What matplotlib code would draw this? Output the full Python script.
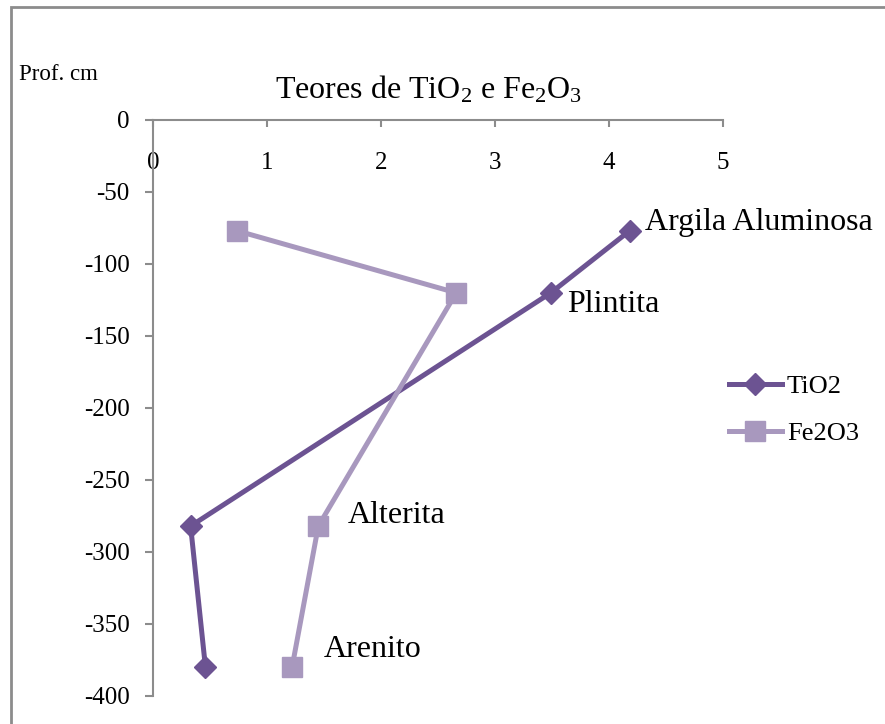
import matplotlib.pyplot as plt
from matplotlib.patches import Rectangle

plt.rcParams['font.family'] = ['Liberation Serif', 'DejaVu Serif']
plt.rcParams['mathtext.fontset'] = 'custom'
plt.rcParams['mathtext.rm'] = 'Liberation Serif'
plt.rcParams['mathtext.it'] = 'Liberation Serif:italic'

# dados
profundidade = [-77, -120, -282, -380]
tio2 = [4.18, 3.49, 0.33, 0.46]
fe2o3 = [0.74, 2.66, 1.45, 1.22]
horizontes = ['Argila Aluminosa', 'Plintita', 'Alterita', 'Arenito']
x_ticks = [0, 1, 2, 3, 4, 5]
y_ticks = [0, -50, -100, -150, -200, -250, -300, -350, -400]

cor_tio2 = '#6C5392'
cor_fe = '#A898BE'
cinza = '#8C8C8C'

fig = plt.figure(figsize=(8.85, 7.24), dpi=100)
W, H = 885, 724
ax = fig.add_axes([153 / W, 1 - 696 / H, 570 / W, 576 / H])

ax.plot(tio2, profundidade, color=cor_tio2, lw=3.6, marker='D', ms=11,
        label='TiO2', solid_joinstyle='round')
ax.plot(fe2o3, profundidade, color=cor_fe, lw=3.6, marker='s', ms=14,
        label='Fe2O3', solid_joinstyle='round')

ax.set_xlim(0, 5)
ax.set_ylim(-400, 0)
ax.set_xticks(x_ticks)
ax.set_yticks(y_ticks)
ax.set_xticklabels([str(v) for v in x_ticks])
ax.set_yticklabels([str(v) for v in y_ticks])

# eixo x no topo (y = 0), rótulos abaixo da linha
ax.spines['bottom'].set_position(('data', 0))
ax.spines['top'].set_visible(False)
ax.spines['right'].set_visible(False)
for s in ['bottom', 'left']:
    ax.spines[s].set_color(cinza)
    ax.spines[s].set_linewidth(1.5)
ax.tick_params(axis='x', direction='out', length=5, width=1.5, color=cinza,
               pad=18, labelsize=18)
ax.tick_params(axis='y', direction='out', length=6, width=1.5, color=cinza,
               pad=11, labelsize=18)
ax.patch.set_visible(False)

# rótulos dos horizontes
offsets = [(15, 8), (16, -12), (29, 11), (32, 18)]
pontos = [(tio2[0], profundidade[0]), (tio2[1], profundidade[1]),
          (fe2o3[2], profundidade[2]), (fe2o3[3], profundidade[3])]
for nome, p, off in zip(horizontes, pontos, offsets):
    ax.annotate(nome, xy=p, xytext=off, textcoords='offset pixels',
                ha='left', va='center', fontsize=23)

fig.text(429 / W, 1 - 90 / H, r'Teores de TiO$_2$ e Fe$_2$O$_3$',
         ha='center', va='center', fontsize=23)
fig.text(19 / W, 1 - 75 / H, 'Prof. cm', ha='left', va='center', fontsize=16.5)

ax.legend(loc='center left', bbox_to_anchor=(729 / W, 1 - 410 / H),
          bbox_transform=fig.transFigure, frameon=False, fontsize=19,
          handlelength=2.0, handletextpad=0.2, labelspacing=0.9,
          borderpad=0, borderaxespad=0)

fig.patches.append(Rectangle((11 / W, -0.1), 1.2, 1.1 - 7 / H,
                             transform=fig.transFigure, fill=False,
                             edgecolor=cinza, lw=2))

fig.savefig('out.png', dpi=100)
